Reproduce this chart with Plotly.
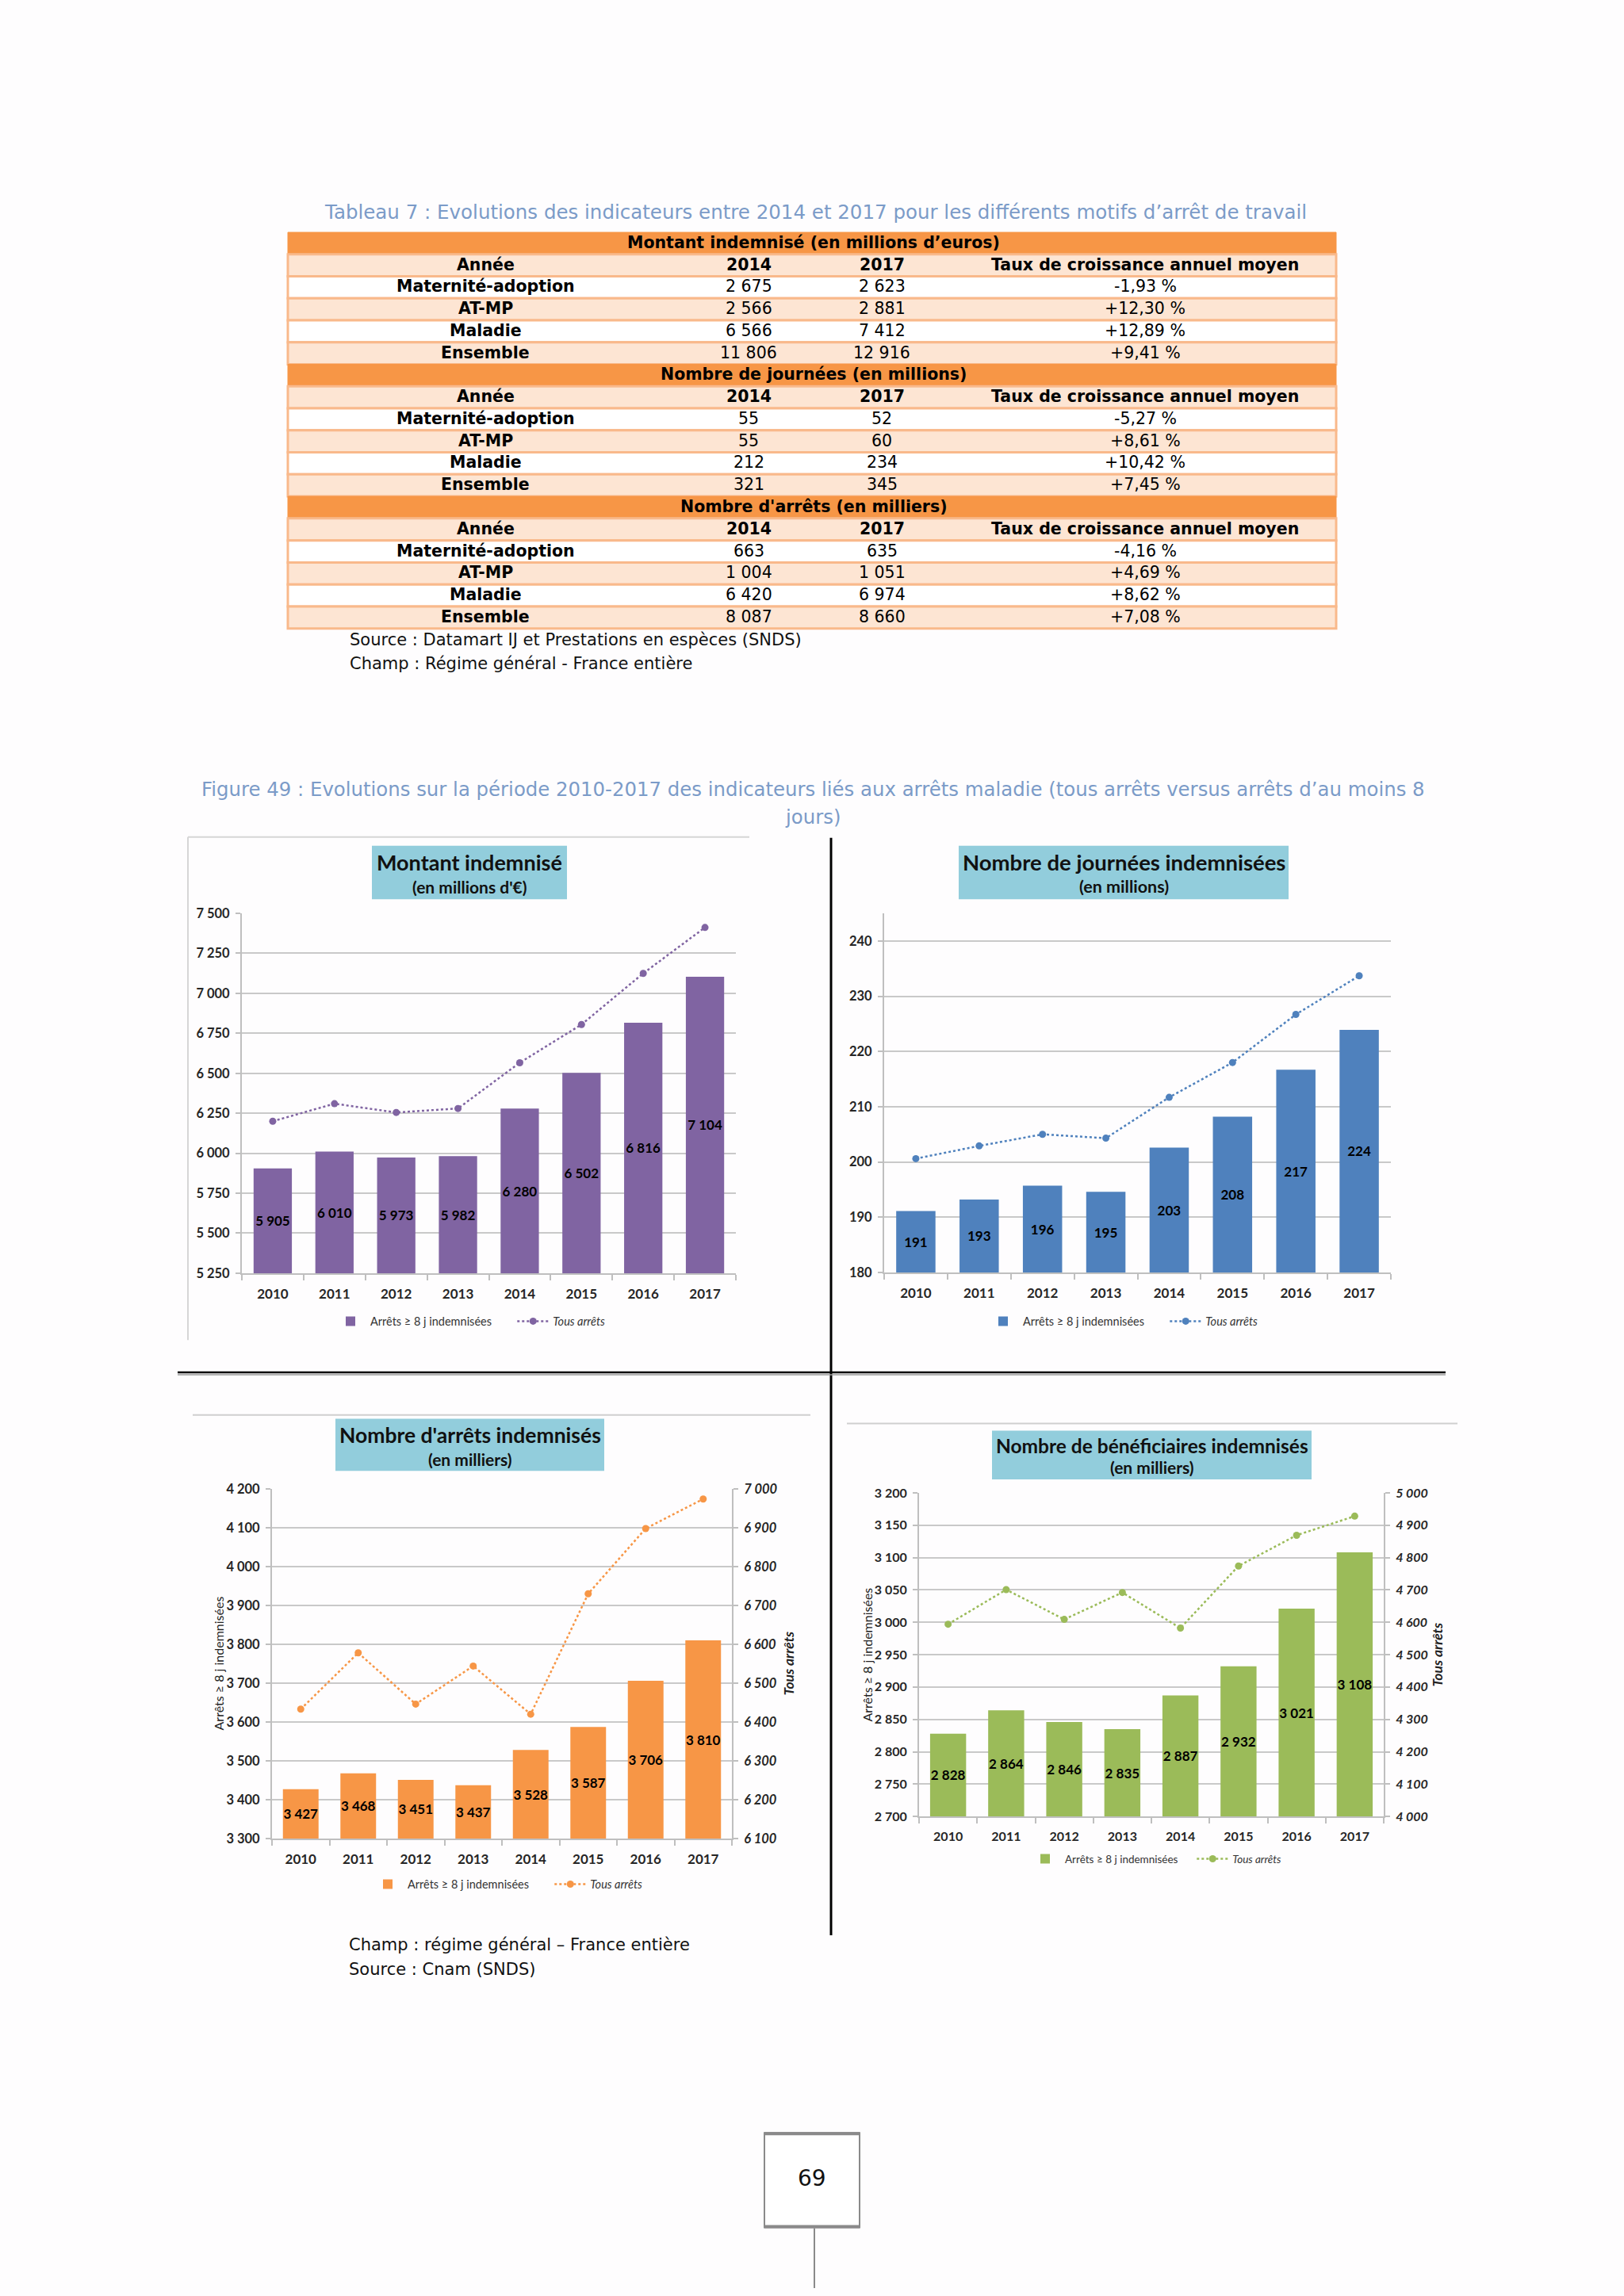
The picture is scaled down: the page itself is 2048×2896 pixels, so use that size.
import plotly.graph_objects as go

W, H = 2048, 2896


def px(x):
    return x / W


def py(y):
    return 1 - y / H


# ---------------- DATA ----------------
years = ["2010", "2011", "2012", "2013", "2014", "2015", "2016", "2017"]

montant_8j = [5905, 6010, 5973, 5982, 6280, 6502, 6816, 7104]
montant_tous = [6200, 6310, 6255, 6280, 6566, 6805, 7125, 7412]

journees_8j = [191.1, 193.2, 195.7, 194.6, 202.6, 208.2, 216.7, 223.9]
journees_tous = [200.6, 202.9, 205.0, 204.3, 211.7, 218.0, 226.7, 233.7]

arrets_8j = [3427, 3468, 3451, 3437, 3528, 3587, 3706, 3810]
arrets_tous = [6433, 6578, 6446, 6544, 6420, 6730, 6898, 6974]

benef_8j = [2828, 2864, 2846, 2835, 2887, 2932, 3021, 3108]
benef_tous = [4594, 4701, 4609, 4692, 4582, 4774, 4869, 4928]

motifs = ["Maternité-adoption", "AT-MP", "Maladie", "Ensemble"]
table_cols = ["Année", "2014", "2017", "Taux de croissance annuel moyen"]

montant_2014 = [2675, 2566, 6566, 11806]
montant_2017 = [2623, 2881, 7412, 12916]
montant_taux = ["-1,93 %", "+12,30 %", "+12,89 %", "+9,41 %"]

journees_2014 = [55, 55, 212, 321]
journees_2017 = [52, 60, 234, 345]
journees_taux = ["-5,27 %", "+8,61 %", "+10,42 %", "+7,45 %"]

nb_arrets_2014 = [663, 1004, 6420, 8087]
nb_arrets_2017 = [635, 1051, 6974, 8660]
nb_arrets_taux = ["-4,16 %", "+4,69 %", "+8,62 %", "+7,08 %"]

sections = [
    ("Montant indemnisé (en millions d’euros)", montant_2014, montant_2017, montant_taux),
    ("Nombre de journées (en millions)", journees_2014, journees_2017, journees_taux),
    ("Nombre d'arrêts (en milliers)", nb_arrets_2014, nb_arrets_2017, nb_arrets_taux),
]

# axis ranges (left axis, right axis)
rng_montant = [5250, 7500]
rng_journees = [180, 245]
rng_arrets = [3300, 4200]
rng_arrets_tous = [6100, 7000]
rng_benef = [2700, 3200]
rng_benef_tous = [4000, 5000]

LEG_BAR = "Arrêts ≥ 8 j indemnisées"
LEG_LINE = "<i>Tous arrêts</i>"

# ---------------- STYLE ----------------
PURPLE = "#8064a2"
BLUE = "#4f81bd"
ORANGE = "#f79646"
GREEN = "#9bbb59"
TITLE_BOX = "#92cddc"
CAPTION = "#7b9bc8"
PEACH = "#fde5d3"
TBORDER = "#f9b98b"
GRID = "#c9c9c9"
AXLINE = "#bfbfbf"
TXT = "#262626"
CF = "Lato"
TF = "DejaVu Sans"


def fmt_int(v):
    return f"{v:,}".replace(",", " ")


fig = go.Figure()

bar_font = dict(family=CF, size=17, color="#000000", weight="bold")


def add_chart(xa, ya, ya_line, vals_bar, vals_line, lo, color, legend, tmpl, pad):
    fig.add_trace(go.Bar(
        x=years, y=[v - lo for v in vals_bar], base=lo, customdata=vals_bar,
        xaxis=xa, yaxis=ya, name=LEG_BAR + "\u00a0" * pad, legend=legend,
        marker=dict(color=color, line=dict(width=0)),
        texttemplate=tmpl, textposition="inside", insidetextanchor="middle",
        textangle=0, constraintext="none", textfont=bar_font,
        hoverinfo="skip"))
    fig.add_trace(go.Scatter(
        x=years, y=vals_line, xaxis=xa, yaxis=ya_line, name=LEG_LINE, legend=legend,
        mode="lines+markers", line=dict(color=color, width=2.5, dash="dot"),
        marker=dict(color=color, size=9), hoverinfo="skip"))


add_chart("x", "y", "y", montant_8j, montant_tous, rng_montant[0], PURPLE, "legend", "%{customdata:,d}", 6)
add_chart("x2", "y2", "y2", journees_8j, journees_tous, rng_journees[0], BLUE, "legend2", "%{customdata:.0f}", 6)
add_chart("x3", "y3", "y5", arrets_8j, arrets_tous, rng_arrets[0], ORANGE, "legend3", "%{customdata:,d}", 6)
add_chart("x4", "y4", "y6", benef_8j, benef_tous, rng_benef[0], GREEN, "legend4", "%{customdata:,d}", 4)


def xax(x0, x1, anchor, size=17):
    return dict(domain=[px(x0), px(x1)], anchor=anchor, type="category",
                showgrid=False, showline=True, linecolor=AXLINE, linewidth=2,
                ticks="outside", tickson="boundaries", ticklen=7, tickcolor=AXLINE,
                tickwidth=2, ticklabelstandoff=10,
                tickfont=dict(family=CF, size=size, color=TXT, weight="bold"),
                fixedrange=True)


def yax(y0, y1, anchor, rng, dtick, fmt, italic=False, side="left", overlay=None, grid=True, size=16.5):
    d = dict(anchor=anchor, range=rng, dtick=dtick, tick0=rng[0], side=side,
             showgrid=grid, gridcolor=GRID, gridwidth=2, zeroline=False,
             showline=True, linecolor=AXLINE, linewidth=2,
             ticks="outside", ticklen=6, tickcolor=AXLINE, tickwidth=2,
             tickformat=fmt, ticklabelstandoff=4,
             tickfont=dict(family=CF, size=size, color=TXT, weight="bold",
                           style="italic" if italic else "normal"),
             fixedrange=True)
    if overlay:
        d["overlaying"] = overlay
    else:
        d["domain"] = [py(y1), py(y0)]
    return d


def legend(x, y, size=14.5):
    return dict(x=px(x), y=py(y), xanchor="left", yanchor="middle", orientation="h",
                font=dict(family=CF, size=size, color="#333333"), bgcolor="rgba(0,0,0,0)",
                itemwidth=40, traceorder="normal", itemclick=False, itemdoubleclick=False)


shapes = []
annotations = []


def ann(x, y, text, size, color="#000000", family=TF, xanchor="center", yanchor="middle", angle=0):
    annotations.append(dict(x=px(x), y=py(y), xref="paper", yref="paper", text=text,
                            showarrow=False, xanchor=xanchor, yanchor=yanchor, textangle=angle,
                            font=dict(family=family, size=size, color=color)))


def rect(x0, y0, x1, y1, fill, line_color=None, lw=0):
    shapes.append(dict(type="rect", xref="paper", yref="paper",
                       x0=px(x0), x1=px(x1), y0=py(y1), y1=py(y0), fillcolor=fill,
                       line=dict(color=line_color or fill, width=lw), layer="below"))


def hline(x0, x1, y, color, w):
    shapes.append(dict(type="line", xref="paper", yref="paper", x0=px(x0), x1=px(x1),
                       y0=py(y), y1=py(y), line=dict(color=color, width=w)))


def vline(x, y0, y1, color, w):
    shapes.append(dict(type="line", xref="paper", yref="paper", x0=px(x), x1=px(x),
                       y0=py(y0), y1=py(y1), line=dict(color=color, width=w)))


# ---------------- TABLE ----------------
ann(1028, 259, "Tableau 7 : Evolutions des indicateurs entre 2014 et 2017 pour les différents motifs d’arrêt de travail",
    24.5, CAPTION)

TX0, TX1 = 363, 1685
ROW_H = 27.95
TOP = 285
COLX = [612, 944, 1112, 1444]
TFS = 20.5
for s, (title, v14, v17, taux) in enumerate(sections):
    base = TOP + s * 6 * ROW_H
    rect(TX0, base, TX1, base + ROW_H, ORANGE, ORANGE, 1)
    ann(1026, base + ROW_H / 2 - 1, f"<b>{title}</b>", TFS)
    y = base + ROW_H
    rect(TX0, y, TX1, y + ROW_H, PEACH, TBORDER, 3)
    for cx, c in zip(COLX, table_cols):
        ann(cx, y + ROW_H / 2 - 1, f"<b>{c}</b>", TFS)
    for i, m in enumerate(motifs):
        y = base + (2 + i) * ROW_H
        rect(TX0, y, TX1, y + ROW_H, "#ffffff" if i % 2 == 0 else PEACH, TBORDER, 3)
        ann(COLX[0], y + ROW_H / 2 - 1, f"<b>{m}</b>", TFS)
        ann(COLX[1], y + ROW_H / 2 - 1, fmt_int(v14[i]), TFS)
        ann(COLX[2], y + ROW_H / 2 - 1, fmt_int(v17[i]), TFS)
        ann(COLX[3], y + ROW_H / 2 - 1, taux[i], TFS)

ann(439, 803, "Source : Datamart IJ et Prestations en espèces (SNDS)", 21, "#111111", xanchor="left")
ann(439, 833, "Champ : Régime général - France entière", 21, "#111111", xanchor="left")

# ---------------- FIGURE CAPTION ----------------
ann(1025, 992, "Figure 49 : Evolutions sur la période 2010-2017 des indicateurs liés aux arrêts maladie (tous arrêts versus arrêts d’au moins 8",
    24.4, CAPTION)
ann(1025, 1028, "jours)", 24.4, CAPTION)

# ---------------- FRAMES / SEPARATORS ----------------
hline(237, 945, 1053, "#d6d6d6", 2)
vline(237, 1053, 1692, "#d6d6d6", 2)
vline(1048, 1054, 2448, "#000000", 3)
hline(224, 1823, 1733, "#000000", 2.5)
hline(224, 1823, 1736, "#9a9a9a", 1.5)
hline(243, 1022, 1787, "#cfcfcf", 2)
hline(1068, 1838, 1798, "#cfcfcf", 2)


# ---------------- CHART TITLE BOXES ----------------
def title_box(x0, x1, y0, y1, t1, y_t1, t2, y_t2, s1, s2):
    rect(x0, y0, x1, y1, TITLE_BOX)
    cx = (x0 + x1) / 2
    ann(cx, y_t1, f"<b>{t1}</b>", s1, "#111111", CF)
    ann(cx, y_t2, f"<b>{t2}</b>", s2, "#111111", CF)


title_box(469, 715, 1064, 1132, "Montant indemnisé", 1085, "(en millions d'€)", 1116, 27, 21)
title_box(1209, 1625, 1064, 1132, "Nombre de journées indemnisées", 1085, "(en millions)", 1116, 27.5, 21.5)
title_box(423, 762, 1792, 1858, "Nombre d'arrêts indemnisés", 1813, "(en milliers)", 1843, 26.5, 21)
title_box(1251, 1654, 1807, 1869, "Nombre de bénéficiaires indemnisés", 1826, "(en milliers)", 1853, 24.5, 21)

# axis titles (bottom charts)
ann(275, 2103, "Arrêts ≥ 8 j indemnisées", 16, "#222222", CF, angle=-90)
ann(994, 2103, "<b><i>Tous arrêts</i></b>", 17.5, "#222222", CF, angle=-90)
ann(1094, 2092, "Arrêts ≥ 8 j indemnisées", 16, "#222222", CF, angle=-90)
ann(1813, 2092, "<b><i>Tous arrêts</i></b>", 17.5, "#222222", CF, angle=-90)

# ---------------- FOOTER ----------------
ann(438, 2460, "Champ : régime général – France entière", 21, "#111111", xanchor="left")
ann(438, 2491, "Source : Cnam (SNDS)", 21, "#111111", xanchor="left")
rect(964, 2699, 1084, 2819, "#ffffff", "#8a8a8a", 2)
hline(964, 1084, 2700, "#8a8a8a", 4)
hline(964, 1084, 2818, "#8a8a8a", 4)
ann(1024, 2757, "69", 28, "#111111")
vline(1027, 2820, 2896, "#8a8a8a", 2)

fig.update_layout(
    width=W, height=H, margin=dict(l=0, r=0, t=0, b=0),
    paper_bgcolor="#fefdfe", plot_bgcolor="rgba(0,0,0,0)",
    separators=", ", bargap=0.38, showlegend=True,
    xaxis=xax(305, 928, "y"),
    yaxis=yax(1150, 1607, "x", rng_montant, 250, ",d"),
    xaxis2=xax(1115, 1754, "y2"),
    yaxis2=yax(1150, 1606, "x2", rng_journees, 10, "d"),
    xaxis3=xax(343, 923, "y3"),
    yaxis3=yax(1881, 2325, "x3", rng_arrets, 100, ",d"),
    yaxis5=yax(1881, 2325, "x3", rng_arrets_tous, 100, ",d", italic=True, side="right",
               overlay="y3", grid=False),
    xaxis4=xax(1159, 1745, "y4", size=16),
    yaxis4=yax(1886, 2297, "x4", rng_benef, 50, ",d", size=16),
    yaxis6=yax(1886, 2297, "x4", rng_benef_tous, 100, ",d", italic=True, side="right",
               overlay="y4", grid=False, size=16),
    legend=legend(417, 1668),
    legend2=legend(1240, 1668),
    legend3=legend(464, 2383),
    legend4=legend(1293, 2351, 13.5),
    shapes=shapes,
    annotations=annotations,
)

fig.write_html("out.html", config={"displayModeBar": False},
               post_script="document.body.style.margin='0';document.body.style.padding='0';")
